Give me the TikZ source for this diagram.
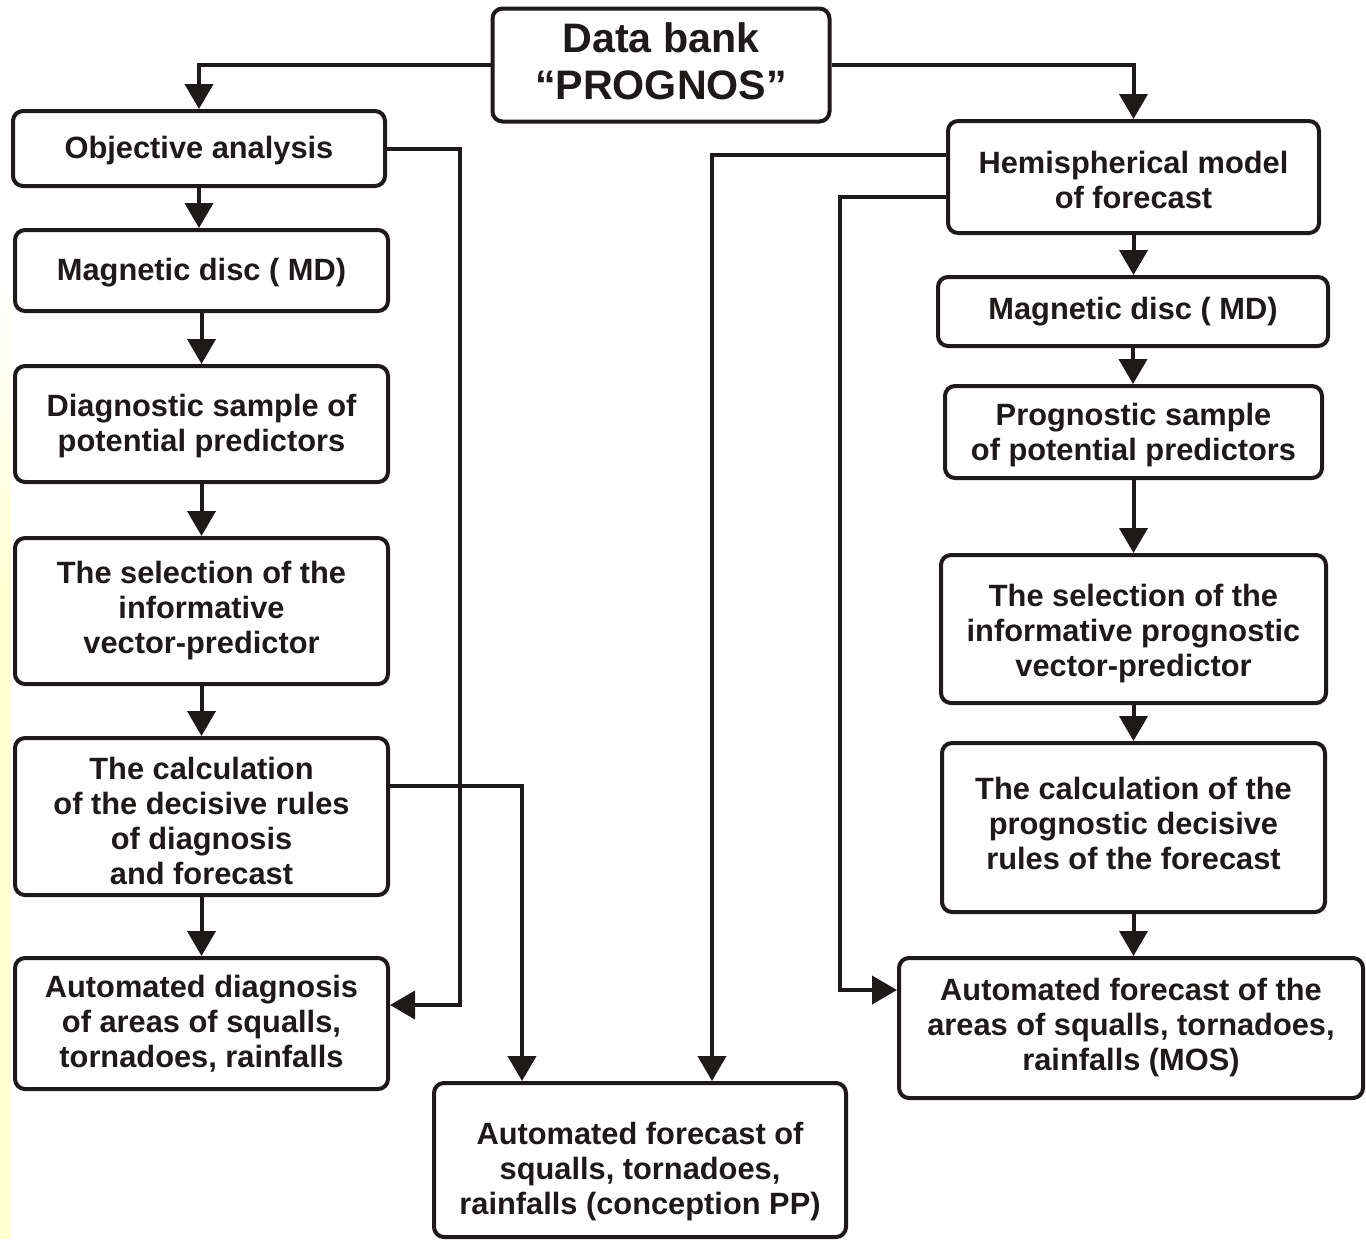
\documentclass[tikz,border=0pt]{standalone}
\usepackage{fontspec}
\setmainfont{Liberation Sans}
\usepackage{xcolor}
\usepackage{tikz}
\usetikzlibrary{arrows.meta,positioning,calc}
\definecolor{ink}{HTML}{1E1A1A}
\definecolor{strip}{HTML}{FFFFD2}
\newcommand{\topgap}[1]{\rule{0pt}{#1}}
\newcommand{\botgap}[1]{\rule[-#1]{0pt}{0pt}}
\tikzset{
  blk/.style={draw=ink,line width=2pt,rounded corners=5pt,align=center,fill=white,text=ink,
              font=\bfseries\fontsize{15.4}{17.5}\selectfont,inner sep=0pt},
  head/.style={blk,font=\bfseries\fontsize{20.6}{23.5}\selectfont},
  arr/.style={-{Triangle[length=12.5pt,width=14pt]},line width=2pt,ink},
}
\begin{document}
\begin{tikzpicture}[x=0.5pt,y=-0.5pt]
  \useasboundingbox (0,0) rectangle (1366,1239);
  \fill[top color=white,bottom color=strip] (0,280) rectangle (11,600);
  \fill[strip] (0,600) rectangle (11,1239);
  \node[head,minimum width=168.5pt,minimum height=56.5pt] (db) at (661,65) {Data bank\\``PROGNOS''\botgap{4pt}};
  % left column
  \node[blk,minimum width=186pt,minimum height=37.5pt] (oa) at (199,148.5) {\topgap{13pt}Objective analysis};
  \node[blk,minimum width=186.5pt,minimum height=40.5pt] (md1) at (201.5,270.5) {\topgap{13pt}Magnetic disc ( MD)};
  \node[blk,minimum width=186.5pt,minimum height=58pt] (ds) at (201.5,424) {\topgap{13pt}Diagnostic sample of\\potential predictors};
  \node[blk,minimum width=186.5pt,minimum height=73pt] (sl1) at (201.5,611) {The selection of the\\informative\\vector-predictor};
  \node[blk,minimum width=186.5pt,minimum height=78.5pt] (cl1) at (201.5,816.5) {\topgap{16pt}The calculation\\of the decisive rules\\of diagnosis\\and forecast};
  \node[blk,minimum width=186.5pt,minimum height=65.5pt] (ad) at (201.5,1023.5) {Automated diagnosis\\of areas of squalls,\\tornadoes, rainfalls};
  \node[blk,minimum width=206pt,minimum height=77pt] (pp) at (640,1160) {\topgap{23pt}Automated forecast of\\squalls, tornadoes,\\rainfalls (conception PP)};
  % right column
  \node[blk,minimum width=185.5pt,minimum height=56pt] (hm) at (1133.5,177) {\topgap{14pt}Hemispherical model\\of forecast};
  \node[blk,minimum width=195pt,minimum height=34.5pt] (md2) at (1133,311.5) {Magnetic disc ( MD)};
  \node[blk,minimum width=188.5pt,minimum height=46pt] (ps) at (1133.5,432) {\topgap{14pt}Prognostic sample\\of potential predictors};
  \node[blk,minimum width=192.5pt,minimum height=74pt] (sl2) at (1133.5,629) {\topgap{16pt}The selection of the\\informative prognostic\\vector-predictor};
  \node[blk,minimum width=191.5pt,minimum height=84.5pt] (cl2) at (1133.5,827.5) {The calculation of the\\prognostic decisive\\rules of the forecast\botgap{4pt}};
  \node[blk,minimum width=232pt,minimum height=70pt] (mos) at (1131,1028) {Automated forecast of the\\areas of squalls, tornadoes,\\rainfalls (MOS)};

  \draw[arr] (db.west) -| (oa.north);
  \draw[arr] (db.east) -| (hm.north);
  \foreach \a/\b in {oa/md1,md1/ds,ds/sl1,sl1/cl1,cl1/ad,hm/md2,md2/ps,ps/sl2,sl2/cl2,cl2/mos}
    \draw[arr] (\a.south) -- (\a.south |- \b.north);

  \coordinate (k1) at (460,1005);
  \coordinate (k2) at (522,786);
  \coordinate (k3) at (712,155);
  \coordinate (k4) at (840,197);
  \coordinate (k5) at (840,990);
  \draw[arr] (oa.east) -| (k1) -- (ad.east |- k1);
  \draw[arr] (cl1.east |- k2) -- (k2) -- (k2 |- pp.north);
  \draw[arr] (hm.west |- k3) -- (k3) -- (k3 |- pp.north);
  \draw[arr] (hm.west |- k4) -- (k4) -- (k5) -- (mos.west |- k5);
\end{tikzpicture}
\end{document}
